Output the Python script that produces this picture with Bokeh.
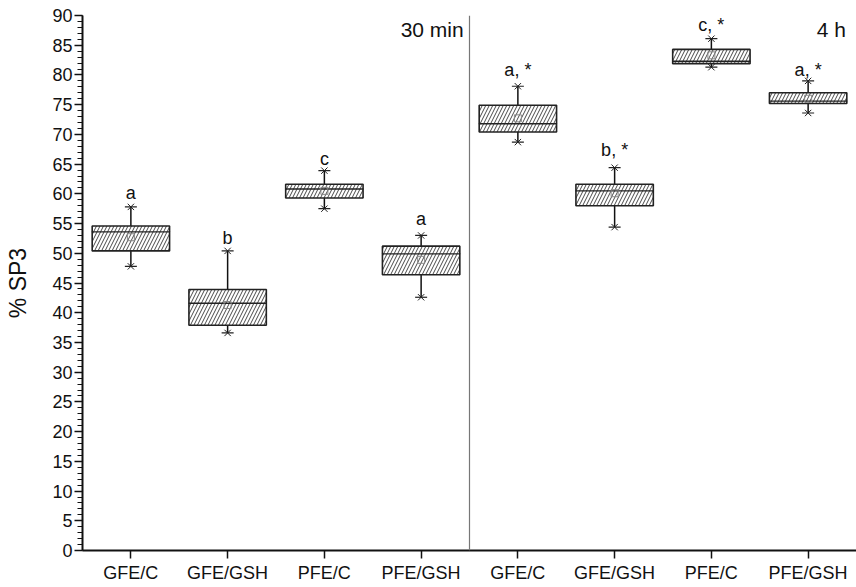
from bokeh.plotting import figure
from bokeh.models import FixedTicker, SingleIntervalTicker, Span, ColumnDataSource, Label
from bokeh.embed import file_html
from bokeh.resources import INLINE
from bokeh.core.properties import value

categories = ["GFE/C", "GFE/GSH", "PFE/C", "PFE/GSH", "GFE/C", "GFE/GSH", "PFE/C", "PFE/GSH"]
positions = [1, 2, 3, 4, 5, 6, 7, 8]
q1 = [50.4, 37.9, 59.3, 46.4, 70.4, 58.0, 81.9, 75.2]
median = [53.6, 41.6, 60.8, 49.9, 71.8, 60.5, 82.3, 75.6]
q3 = [54.6, 43.9, 61.6, 51.2, 74.9, 61.6, 84.3, 77.0]
wmin = [47.8, 36.6, 57.5, 42.6, 68.7, 54.4, 81.3, 73.6]
wmax = [57.8, 50.4, 63.9, 53.0, 78.1, 64.4, 86.1, 79.0]
means = [52.7, 41.3, 60.5, 48.9, 72.7, 60.1, 83.3, 76.0]
letters = ["a", "b", "c", "a", "a, *", "b, *", "c, *", "a, *"]
letter_y = [60.2, 52.6, 65.9, 55.8, 80.8, 67.3, 88.4, 80.9]
period_labels = ["30 min", "4 h"]

FONT = "Liberation Sans"

src = ColumnDataSource(dict(x=positions, q1=q1, med=median, q3=q3, lo=wmin, hi=wmax,
                            mean=means, lab=letters, laby=letter_y))

p = figure(width=856, height=587, x_range=(0.5, 8.5), y_range=(0, 90),
           output_backend="svg", toolbar_location=None,
           min_border_left=82, min_border_right=0, min_border_top=15, min_border_bottom=37)
p.outline_line_color = None
p.grid.visible = False
p.background_fill_color = "white"

# whiskers
p.segment(x0="x", y0="lo", x1="x", y1="hi", source=src, line_color="#111111", line_width=1.5)
# boxes
p.vbar(x="x", width=0.8, bottom="q1", top="q3", source=src, fill_color="white",
       line_color="#222222", line_width=1.6, hatch_pattern="/", hatch_color="#333333",
       hatch_scale=7, hatch_weight=0.9)
# median
p.rect(x="x", y="med", width=0.8, height=0.001, source=src, fill_alpha=0,
       line_color="#222222", line_width=1.4)
# whisker end markers
for yk in ["lo", "hi"]:
    p.scatter(x="x", y=yk, source=src, marker="x", size=9, line_color="#222222", line_width=1)
    p.scatter(x="x", y=yk, source=src, marker="dash", size=12, line_color="#222222", line_width=1.2)
# mean
p.scatter(x="x", y="mean", source=src, marker="square", size=7, fill_alpha=0,
          line_color="#888888", line_width=1)
# letters
p.text(x="x", y="laby", text="lab", source=src, text_align="center", text_baseline="middle",
       text_font=value(FONT), text_font_size="18px", text_color="#111111")

# divider
p.add_layout(Span(location=4.5, dimension="height", line_color="#777777", line_width=1.2))

p.add_layout(Label(x=4.44, y=87.6, text=period_labels[0], text_align="right", text_baseline="middle",
                   text_font=FONT, text_font_size="21px", text_color="#111111"))
p.add_layout(Label(x=8.39, y=87.6, text=period_labels[1], text_align="right", text_baseline="middle",
                   text_font=FONT, text_font_size="21px", text_color="#111111"))

# axes
p.xaxis.ticker = FixedTicker(ticks=positions)
p.xaxis.major_label_overrides = {pos: c for pos, c in zip(positions, categories)}
p.yaxis.ticker = SingleIntervalTicker(interval=5, num_minor_ticks=5)
for ax in [p.xaxis[0], p.yaxis[0]]:
    ax.axis_line_color = "#111111"
    ax.axis_line_width = 2
    ax.major_tick_line_color = "#111111"
    ax.major_tick_line_width = 1.5
    ax.major_tick_out = 8
    ax.major_tick_in = 0
    ax.minor_tick_line_color = "#111111"
    ax.minor_tick_line_width = 1.2
    ax.minor_tick_out = 5
    ax.minor_tick_in = 0
    ax.major_label_text_font = FONT
    ax.major_label_text_font_size = "18px"
    ax.major_label_text_color = "#111111"
p.xaxis.minor_tick_line_color = None
p.xaxis.major_label_standoff = 4
p.yaxis.major_label_standoff = 2
p.yaxis.axis_label = "% SP3"
p.yaxis.axis_label_text_font = FONT
p.yaxis.axis_label_text_font_size = "23px"
p.yaxis.axis_label_text_font_style = "normal"
p.yaxis.axis_label_text_color = "#111111"
p.yaxis.axis_label_standoff = 18

open("out.html", "w").write(file_html(p, INLINE))
